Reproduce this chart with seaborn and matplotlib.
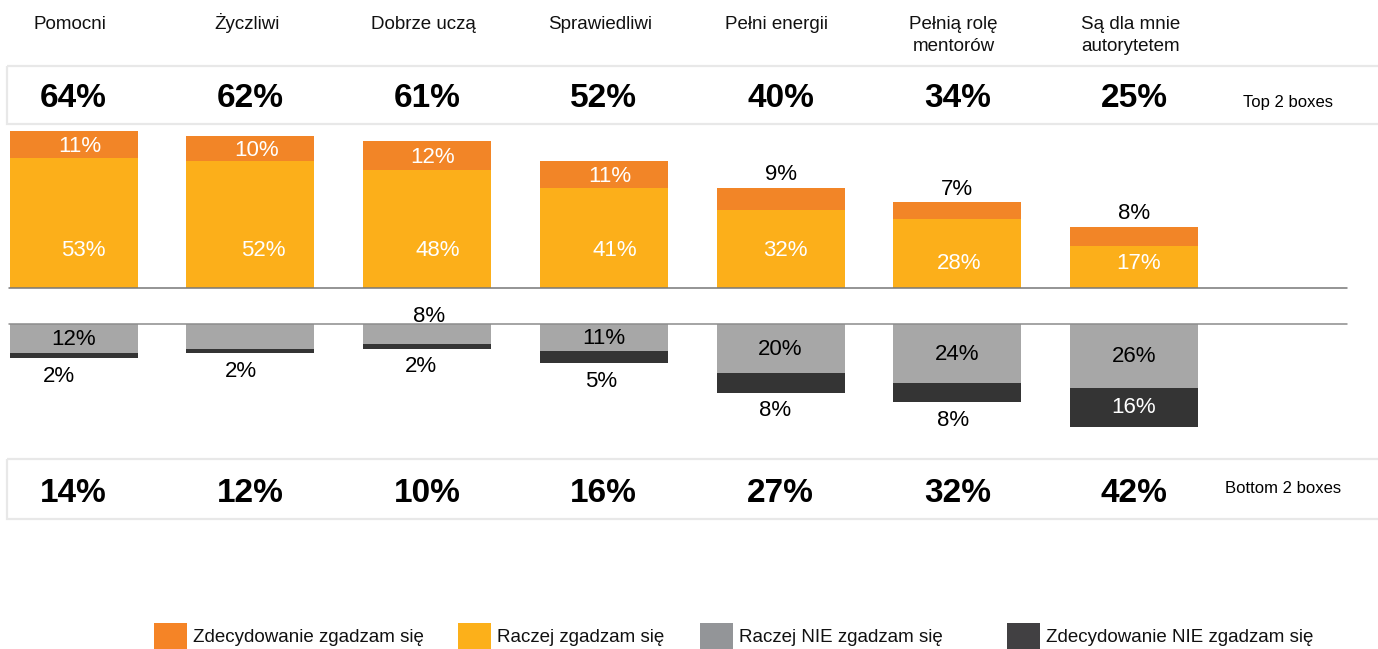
import numpy as np
import pandas as pd
import matplotlib
matplotlib.use("Agg")
import matplotlib.pyplot as plt
import seaborn as sns
from matplotlib.patches import Rectangle, Patch

# ---------------- data ----------------
categories = ["Pomocni", "Życzliwi", "Dobrze uczą", "Sprawiedliwi", "Pełni energii",
              "Pełnią rolę\nmentorów", "Są dla mnie\nautorytetem"]
zdecydowanie_tak = [11, 10, 12, 11, 9, 7, 8]
raczej_tak = [53, 52, 48, 41, 32, 28, 17]
raczej_nie = [12, 10, 8, 11, 20, 24, 26]
zdecydowanie_nie = [2, 2, 2, 5, 8, 8, 16]
top2 = [64, 62, 61, 52, 40, 34, 25]
bottom2 = [14, 12, 10, 16, 27, 32, 42]
series_names = ["Zdecydowanie zgadzam się", "Raczej zgadzam się",
                "Raczej NIE zgadzam się", "Zdecydowanie NIE zgadzam się"]
top_label = "Top 2 boxes"
bottom_label = "Bottom 2 boxes"

# ---------------- style / layout ----------------
C_OR, C_YE, C_GR, C_DK = "#F28527", "#FCAF1A", "#A7A7A7", "#343434"
LEG_COLORS = ["#F58426", "#FCB01A", "#939598", "#414042"]
W, H = 1378, 649
PX = 2.45            # pixels per percentage point
X0, DX = 73.5, 176.75
BASE_TOP, BASE_BOT = 288, 324
XL, XR = -X0 / DX, (W - X0) / DX
BAR_W = 128 / DX

orange_pos = ["in", "in", "in", "in", "out", "out", "out"]
yellow_y = [15.5, 15.5, 15.5, 15.5, 15.5, 9.8, 9.8]
yellow_dx = [10, 13, 11, 11, 5, 2, 5]
gray_pos = ["in", None, "out", "in", "in", "in", "in"]
dark_pos = ["out", "out", "out", "out", "out", "out", "in"]
dark_dx = [-15, -9, -6, -3, -5, -4, 0]
legend_x = [154, 458, 700, 1007]

sns.set_theme(style="white")
plt.rcParams['font.family'] = ['Liberation Sans', 'DejaVu Sans']

fig = plt.figure(figsize=(W / 100, H / 100), dpi=100)
fig.patch.set_facecolor("white")
ax_bg = fig.add_axes([0, 0, 1, 1], zorder=0)
ax_top = fig.add_axes([0, (H - BASE_TOP) / H, 1, BASE_TOP / H], zorder=1)
ax_bot = fig.add_axes([0, 0, 1, (H - BASE_BOT) / H], zorder=1)

df = pd.DataFrame({
    "kat": categories,
    "tak_suma": np.add(zdecydowanie_tak, raczej_tak),
    "raczej_tak": raczej_tak,
    "nie_suma": -np.add(raczej_nie, zdecydowanie_nie),
    "raczej_nie": -np.array(raczej_nie),
})

kw = dict(data=df, x="kat", order=categories, width=BAR_W, saturation=1,
          edgecolor="none", linewidth=0, errorbar=None)
sns.barplot(y="tak_suma", color=C_OR, ax=ax_top, **kw)
sns.barplot(y="raczej_tak", color=C_YE, ax=ax_top, **kw)
sns.barplot(y="nie_suma", color=C_DK, ax=ax_bot, **kw)
sns.barplot(y="raczej_nie", color=C_GR, ax=ax_bot, **kw)

ax_top.set_ylim(0, BASE_TOP / PX)
ax_bot.set_ylim(-(H - BASE_BOT) / PX, 0)
ax_bg.set_ylim(H, 0)
for ax in (ax_bg, ax_top, ax_bot):
    ax.set_xlim(XL, XR)
    ax.axis("off")
    ax.patch.set_alpha(0)

def px2x(p):
    return (p - X0) / DX

# baselines
ax_top.axhline(0, xmin=9 / W, xmax=1347 / W, color="#777777", lw=1.1, clip_on=False, zorder=5)
ax_bot.axhline(0, xmin=9 / W, xmax=1347 / W, color="#8c8c8c", lw=1.1, clip_on=False, zorder=5)

# boxes
for (y0, h) in [(66, 58), (459, 60)]:
    ax_bg.add_patch(Rectangle((px2x(7), y0), px2x(1400) - px2x(7), h, fill=False,
                              edgecolor="#E8E8E8", lw=1.6))

# texts in header / boxes
for i, c in enumerate(categories):
    for k, line in enumerate(c.split("\n")):
        ax_bg.text(i - 0.02, 29 + 22 * k, line, ha="center", va="baseline", fontsize=13.5, color="#111111")
    ax_bg.text(i, 107, f"{top2[i]}%", ha="center", va="baseline", fontsize=24, weight="bold", color="black")
    ax_bg.text(i, 502, f"{bottom2[i]}%", ha="center", va="baseline", fontsize=24, weight="bold", color="black")
ax_bg.text(px2x(1243), 107, top_label, ha="left", va="baseline", fontsize=12, color="black")
ax_bg.text(px2x(1225), 493, bottom_label, ha="left", va="baseline", fontsize=12, color="black")

# bar labels
LF = 16
for i in range(len(categories)):
    tot = zdecydowanie_tak[i] + raczej_tak[i]
    if orange_pos[i] == "in":
        ax_top.annotate(f"{zdecydowanie_tak[i]}%", (i, tot - zdecydowanie_tak[i] / 2), xytext=(6, -2),
                        textcoords="offset pixels", ha="center", va="center", fontsize=LF, color="white")
    else:
        ax_top.annotate(f"{zdecydowanie_tak[i]}%", (i, tot), xytext=(0, 13),
                        textcoords="offset pixels", ha="center", va="center", fontsize=LF, color="black")
    ax_top.annotate(f"{raczej_tak[i]}%", (i, yellow_y[i]), xytext=(yellow_dx[i], 0),
                    textcoords="offset pixels", ha="center", va="center", fontsize=LF, color="white")
    if gray_pos[i] == "in":
        ax_bot.annotate(f"{raczej_nie[i]}%", (i, -raczej_nie[i] / 2), xytext=(0, -1),
                        textcoords="offset pixels", ha="center", va="center", fontsize=LF, color="black")
    elif gray_pos[i] == "out":
        ax_bot.annotate(f"{raczej_nie[i]}%", (i, 0), xytext=(2, 7),
                        textcoords="offset pixels", ha="center", va="center", fontsize=LF, color="black",
                        annotation_clip=False)
    nt = raczej_nie[i] + zdecydowanie_nie[i]
    if dark_pos[i] == "in":
        ax_bot.annotate(f"{zdecydowanie_nie[i]}%", (i, -(raczej_nie[i] + zdecydowanie_nie[i] / 2)),
                        xytext=(dark_dx[i], 0), textcoords="offset pixels", ha="center", va="center",
                        fontsize=LF, color="white")
    else:
        ax_bot.annotate(f"{zdecydowanie_nie[i]}%", (i, -nt), xytext=(dark_dx[i], -18),
                        textcoords="offset pixels", ha="center", va="center", fontsize=LF, color="black")

# legend (one entry per position, as in the reference)
FS = 13.5
em = FS * 100 / 72
for c, n, lx in zip(LEG_COLORS, series_names, legend_x):
    leg = fig.legend(handles=[Patch(facecolor=c, edgecolor="none", label=n)], loc="center left",
                     bbox_to_anchor=(lx / W, 1 - 636 / H), frameon=False, fontsize=FS,
                     handlelength=33 / em, handleheight=34 / em, handletextpad=6 / em,
                     borderpad=0, borderaxespad=0)
    for t in leg.get_texts():
        t.set_color("#111111")

fig.savefig("out.png", dpi=100, facecolor="white")
